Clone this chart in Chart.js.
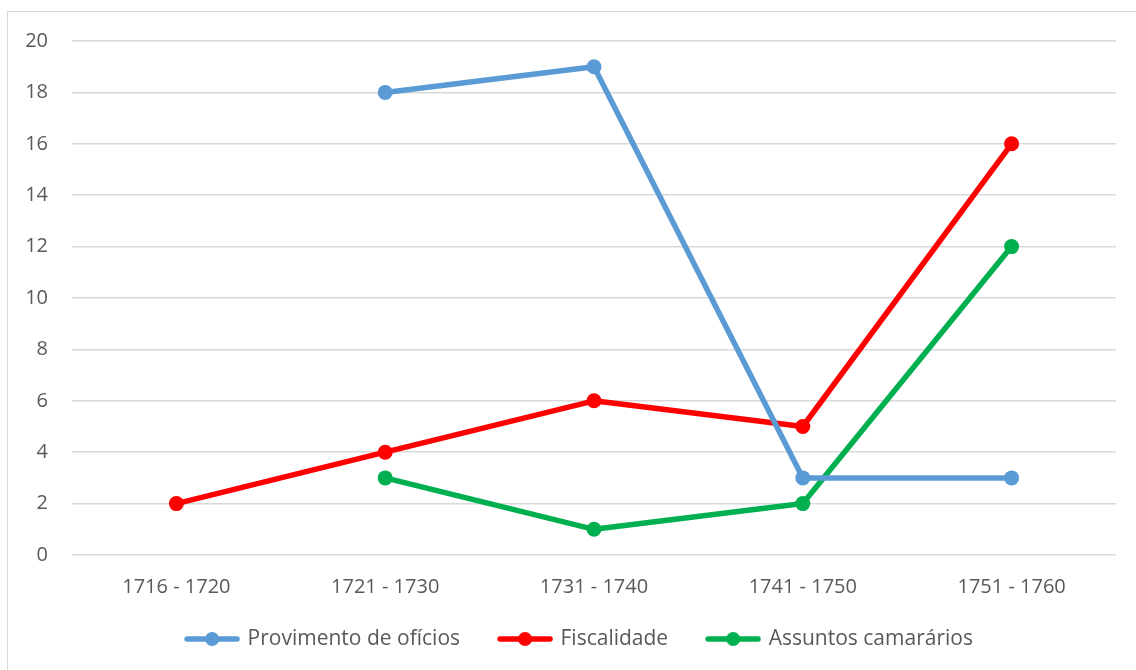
<!DOCTYPE html>
<html>
<head>
<meta charset="utf-8">
<script src="https://cdn.jsdelivr.net/npm/chart.js@4/dist/chart.umd.min.js"></script>
<style>
  html, body { margin: 0; padding: 0; background: #fff; overflow: hidden; }
  #frame { position: absolute; left: 7px; top: 11px; width: 1200px; height: 720px; border: 1.5px solid #d9d9d9; }
  #wrap { position: absolute; left: 0; top: 0; width: 1136px; height: 670px; }
</style>
</head>
<body>
<div id="frame"></div>
<div id="wrap"><canvas id="lineChart"></canvas></div>
<script>
// períodos e séries
const periodos = ["1716 - 1720", "1721 - 1730", "1731 - 1740", "1741 - 1750", "1751 - 1760"];
const provimento = [null, 18, 19, 3, 3];
const fiscalidade = [2, 4, 6, 5, 16];
const assuntos = [null, 3, 1, 2, 12];
const yTicks = [0, 2, 4, 6, 8, 10, 12, 14, 16, 18, 20];

const cores = ["#5B9BD5", "#FF0000", "#00B050"];

Chart.defaults.font.family = "'Open Sans', sans-serif";
Chart.defaults.color = "#595959";

// ícone da legenda: linha com marcador
function legendIcon(color) {
  const c = document.createElement("canvas");
  c.width = 56; c.height = 16;
  const g = c.getContext("2d");
  g.strokeStyle = color;
  g.lineWidth = 5.5;
  g.lineCap = "round";
  g.beginPath(); g.moveTo(3, 8); g.lineTo(53, 8); g.stroke();
  g.fillStyle = color;
  g.beginPath(); g.arc(28, 8, 7, 0, Math.PI * 2); g.fill();
  return c;
}

function serie(label, data, color) {
  return {
    label: label,
    data: data,
    borderColor: color,
    backgroundColor: color,
    borderWidth: 5.5,
    borderCapStyle: "round",
    borderJoinStyle: "round",
    pointRadius: 7.5,
    pointHoverRadius: 7.5,
    pointBorderWidth: 0,
    pointBackgroundColor: color,
    tension: 0,
    fill: false
  };
}

// a legenda do original fica um pouco à direita e mais perto do eixo
const legendShift = {
  id: "legendShift",
  afterLayout(chart) {
    const lg = chart.legend;
    lg.left += 10; lg.right += 10;
    lg.top -= 10.5; lg.bottom -= 10.5;
  }
};

const ctx = document.getElementById("lineChart").getContext("2d");
new Chart(ctx, {
  type: "line",
  data: {
    labels: periodos,
    datasets: [
      serie("Provimento de ofícios", provimento, cores[0]),
      serie("Fiscalidade", fiscalidade, cores[1]),
      serie("Assuntos camarários", assuntos, cores[2])
    ]
  },
  options: {
    responsive: true,
    maintainAspectRatio: false,
    animation: false,
    layout: { padding: { left: 24, right: 20, top: 41, bottom: 0 } },
    scales: {
      x: {
        offset: true,
        afterFit: s => { s.height = 44; },
        grid: { display: false, drawTicks: false, offset: true },
        border: { display: false },
        ticks: { padding: 29.5, font: { size: 20, lineHeight: 0.25 }, color: "#595959" }
      },
      y: {
        min: 0,
        max: 20,
        afterFit: s => { s.width = 48; },
        afterBuildTicks: s => { s.ticks = yTicks.map(v => ({ value: v })); },
        grid: { color: "#d9d9d9", lineWidth: 1.5, drawTicks: false },
        border: { display: false },
        ticks: { padding: 24, font: { size: 20 }, color: "#595959" }
      }
    },
    plugins: {
      tooltip: { enabled: false },
      legend: {
        position: "bottom",
        labels: {
          usePointStyle: true,
          pointStyleWidth: 50,
          padding: 40,
          font: { size: 21 },
          color: "#595959",
          generateLabels(chart) {
            const items = Chart.defaults.plugins.legend.labels.generateLabels(chart);
            items.forEach((it, i) => { it.pointStyle = legendIcon(cores[i]); });
            return items;
          }
        }
      }
    }
  },
  plugins: [legendShift]
});
</script>
</body>
</html>
